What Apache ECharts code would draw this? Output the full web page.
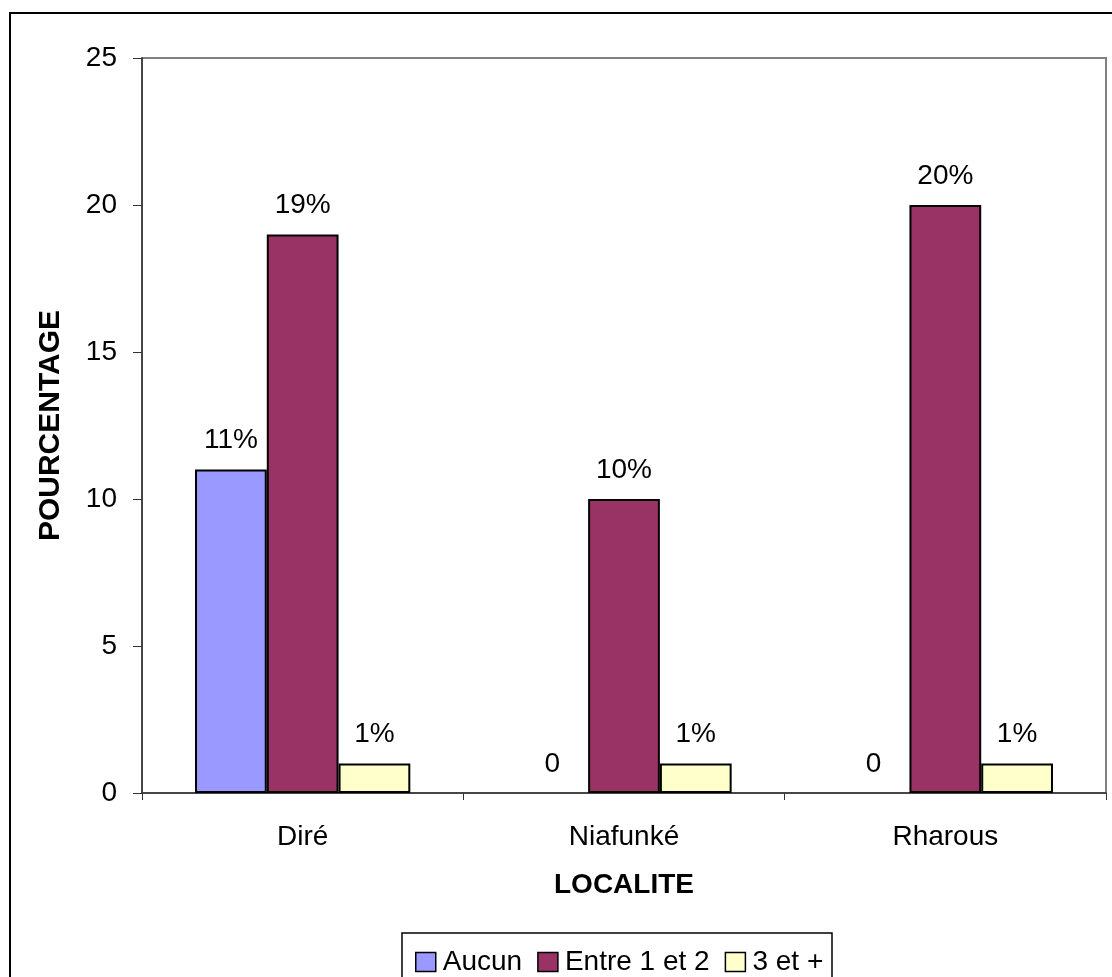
<!DOCTYPE html>
<html>
<head>
<meta charset="utf-8">
<script src="https://cdn.jsdelivr.net/npm/echarts@6/dist/echarts.min.js"></script>
<style>
  html, body { margin: 0; padding: 0; background: #fff; }
  #chart { width: 1112px; height: 977px; }
</style>
</head>
<body>
<div id="chart"></div>
<script>
// Localités and their percentages per category
const localites = ['Diré', 'Niafunké', 'Rharous'];
const aucun = [11, 0, 0];
const entre1et2 = [19, 10, 20];
const troisEtPlus = [1, 1, 1];
const yTicks = { min: 0, max: 25, interval: 5 };

const FONT = 'Liberation Sans, Arial, sans-serif';
const FS = 28;

function pctLabel(p) {
  return p.value === 0 ? '0' : p.value + '%';
}

// zero-height bars get no outline so only their "0" label shows
function barData(values) {
  return values.map(v => v === 0 ? { value: v, itemStyle: { borderWidth: 0 } } : v);
}

function barSeries(name, values, color) {
  return {
    name: name,
    type: 'bar',
    data: barData(values),
    barGap: '0%',
    barCategoryGap: '33%',
    itemStyle: { color: color, borderColor: '#000', borderWidth: 2 },
    label: {
      show: true,
      position: 'top',
      distance: 15,
      formatter: pctLabel,
      color: '#000',
      fontFamily: FONT,
      fontSize: FS
    }
  };
}

const chart = echarts.init(document.getElementById('chart'), null, { renderer: 'canvas' });

chart.setOption({
  animation: false,
  backgroundColor: '#fff',
  textStyle: { fontFamily: FONT },
  graphic: [
    {
      type: 'rect',
      shape: { x: 10, y: 13, width: 1130, height: 1000 },
      style: { fill: 'none', stroke: '#000', lineWidth: 2 },
      z: -1
    },
    {
      type: 'rect',
      shape: { x: 402, y: 933, width: 430, height: 80 },
      style: { fill: '#fff', stroke: '#000', lineWidth: 1.5 },
      z: 0
    }
  ],
  grid: {
    left: 142, top: 58, right: 6, bottom: 184,
    show: true, borderColor: '#808080', borderWidth: 2
  },
  legend: {
    left: 410, top: 943,
    itemWidth: 20, itemHeight: 19, itemGap: 15,
    icon: 'rect',
    z: 5,
    textStyle: { fontFamily: FONT, fontSize: FS, color: '#000', padding: [0, 0, 0, 2] },
    itemStyle: { borderColor: '#000', borderWidth: 1.5 }
  },
  xAxis: {
    type: 'category',
    data: localites,
    name: 'LOCALITE',
    nameLocation: 'middle',
    nameGap: 78,
    nameTextStyle: { fontFamily: FONT, fontSize: FS, fontWeight: 'bold', color: '#000' },
    axisLine: { lineStyle: { color: '#333', width: 1.5 } },
    axisTick: { show: true, length: 7, alignWithLabel: false, lineStyle: { color: '#333' } },
    axisLabel: { margin: 30, fontFamily: FONT, fontSize: FS, color: '#000' }
  },
  yAxis: {
    type: 'value',
    min: yTicks.min, max: yTicks.max, interval: yTicks.interval,
    name: 'POURCENTAGE',
    nameLocation: 'middle',
    nameGap: 76,
    nameTextStyle: { fontFamily: FONT, fontSize: 30, fontWeight: 'bold', color: '#000' },
    axisLine: { show: true, lineStyle: { color: '#333', width: 1.5 } },
    axisTick: { show: true, length: 9, lineStyle: { color: '#333' } },
    splitLine: { show: false },
    axisLabel: { margin: 25, fontFamily: FONT, fontSize: FS, color: '#000' }
  },
  series: [
    barSeries('Aucun', aucun, '#9999FF'),
    barSeries('Entre 1 et 2', entre1et2, '#993366'),
    barSeries('3 et +', troisEtPlus, '#FFFFCC')
  ]
});
</script>
</body>
</html>
